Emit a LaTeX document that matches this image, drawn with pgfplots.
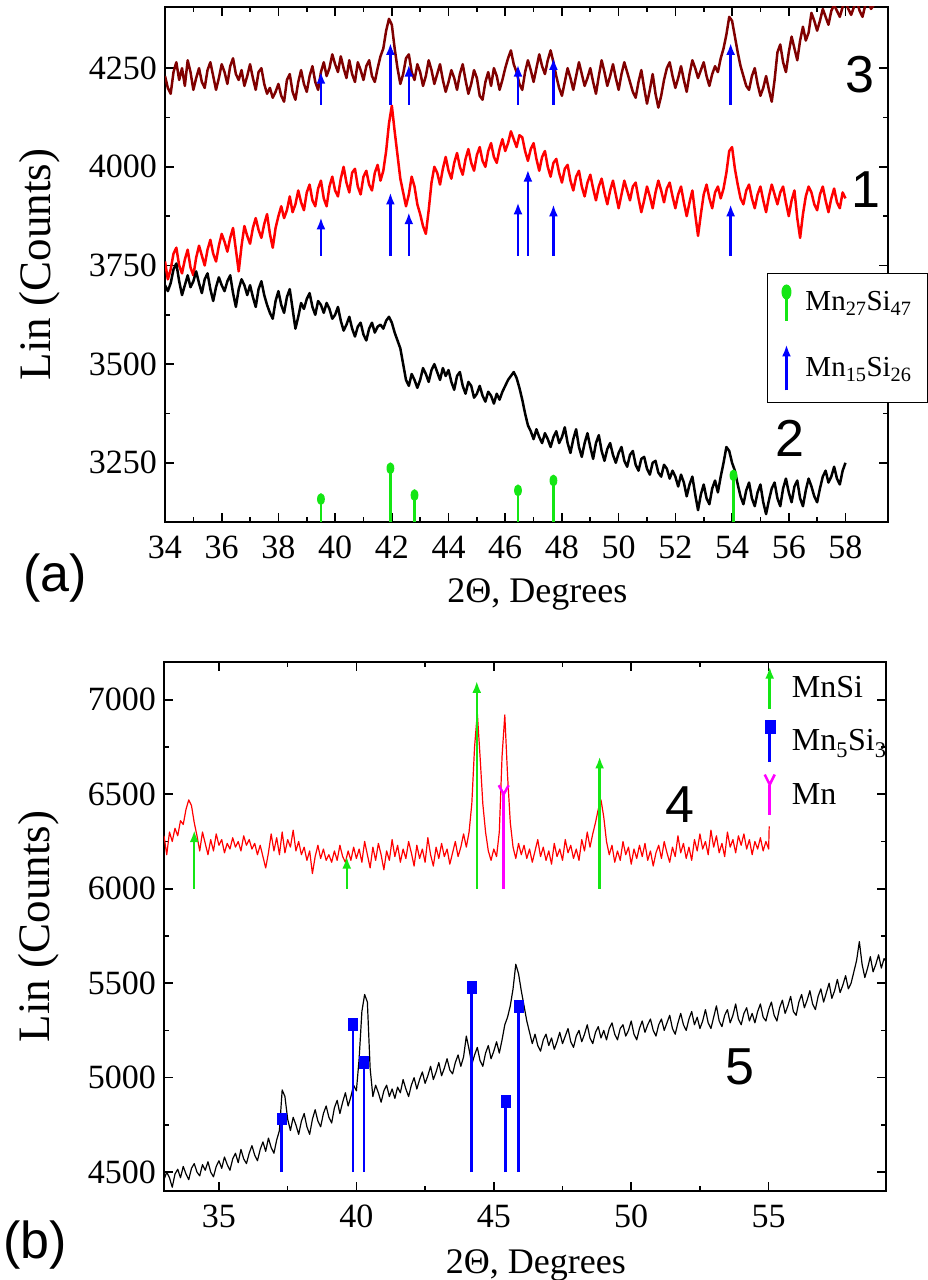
\documentclass[border=0pt]{standalone}
\usepackage{pgfplots}
\pgfplotsset{compat=1.18}
\usepackage{fontspec}
\setmainfont{Liberation Serif}
\newfontfamily\arialfont{Liberation Sans}
\usetikzlibrary{arrows.meta}

\definecolor{darkred}{RGB}{128,0,0}
\definecolor{mnred}{RGB}{255,0,0}
\definecolor{mngreen}{RGB}{20,230,20}
\definecolor{mnblue}{RGB}{0,0,255}
\definecolor{mnmag}{RGB}{255,0,255}

\pgfdeclareplotmark{vellipse}{%
  \pgfpathellipse{\pgfpointorigin}{\pgfqpoint{0.65\pgfplotmarksize}{0pt}}{\pgfqpoint{0pt}{\pgfplotmarksize}}%
  \pgfusepathqfill}
\pgfdeclareplotmark{ymark}{%
  \pgfpathmoveto{\pgfqpoint{-0.55\pgfplotmarksize}{\pgfplotmarksize}}%
  \pgfpathlineto{\pgfpointorigin}%
  \pgfpathlineto{\pgfqpoint{0.55\pgfplotmarksize}{\pgfplotmarksize}}%
  \pgfusepathqstroke}

\tikzset{numlab/.style={font=\arialfont\fontsize{52}{56}\selectfont}}
\pgfplotsset{
  myaxis/.style={
    scale only axis,
    anchor=south west,
    axis line style={line width=1.8pt},
    tick style={black, line width=1.6pt},
    major tick length=9pt, minor tick length=5pt,
    tick align=inside,
    /pgf/number format/assume math mode=true,
    /pgf/number format/1000 sep={},
    ticklabel style={font=\fontsize{34}{36}\selectfont},
    yticklabel style={inner sep=0pt, xshift=-8pt},
    xticklabel style={inner sep=0pt, yshift=-14pt},
    every axis y label/.style={at={(axis description cs:-0.173,0.5)}, rotate=90, anchor=center, font=\fontsize{45}{48}\selectfont},
    every axis x label/.style={at={(axis description cs:0.515,-0.14)}, anchor=center, font=\fontsize{36}{40}\selectfont},
    legend cell align=left,
  },
  curve/.style={line join=round, forget plot},
}

\begin{document}
\begin{tikzpicture}
% ---------------- panel (a) ----------------
\begin{axis}[myaxis, at={(165pt,758pt)}, width=723pt, height=515pt,
  xmin=34, xmax=59.5, ymin=3100, ymax=4405,
  xtick={34,36,...,58}, minor x tick num=1,
  ytick={3250,3500,3750,4000,4250}, minor y tick num=1,
  xlabel={2Θ, Degrees}, ylabel={Lin (Counts)},
  legend style={at={(0.8326,0.4835)}, anchor=north west, draw=black, line width=1pt, fill=white,
    font=\fontsize{29}{31}\selectfont, row sep=21pt, inner xsep=14pt, inner ysep=11pt,
    /tikz/every odd column/.append style={column sep=12pt}},
]
% curve 3
\addplot[curve, darkred, line width=2.5pt] coordinates {
(34.0,4230) (34.1,4200) (34.2,4185) (34.3,4240) (34.4,4265) (34.5,4220) (34.6,4250) (34.7,4205) (34.8,4270) (34.9,4240)
(35.0,4195) (35.1,4225) (35.2,4250) (35.3,4215) (35.4,4200) (35.5,4245) (35.6,4265) (35.7,4230) (35.8,4195) (35.9,4225)
(36.0,4260) (36.1,4240) (36.2,4210) (36.3,4255) (36.4,4275) (36.5,4235) (36.6,4220) (36.7,4245) (36.8,4205) (36.9,4230)
(37.0,4260) (37.1,4225) (37.2,4195) (37.3,4240) (37.4,4250) (37.5,4210) (37.6,4185) (37.7,4200) (37.8,4175) (37.9,4190)
(38.0,4210) (38.1,4180) (38.2,4165) (38.3,4220) (38.4,4235) (38.5,4190) (38.6,4170) (38.7,4215) (38.8,4245) (38.9,4210)
(39.0,4190) (39.1,4230) (39.2,4255) (39.3,4215) (39.4,4195) (39.5,4240) (39.6,4265) (39.7,4230) (39.8,4250) (39.9,4285)
(40.0,4260) (40.1,4240) (40.2,4280) (40.3,4250) (40.4,4225) (40.5,4270) (40.6,4235) (40.7,4215) (40.8,4265) (40.9,4245)
(41.0,4220) (41.1,4255) (41.2,4270) (41.3,4230) (41.4,4215) (41.5,4250) (41.6,4280) (41.7,4300) (41.8,4345) (41.9,4375)
(42.0,4360) (42.1,4300) (42.2,4250) (42.3,4210) (42.4,4235) (42.5,4275) (42.6,4285) (42.7,4240) (42.8,4220) (42.9,4260)
(43.0,4240) (43.1,4205) (43.2,4230) (43.3,4270) (43.4,4245) (43.5,4210) (43.6,4235) (43.7,4260) (43.8,4220) (43.9,4190)
(44.0,4215) (44.1,4245) (44.2,4225) (44.3,4195) (44.4,4235) (44.5,4260) (44.6,4220) (44.7,4185) (44.8,4210) (44.9,4245)
(45.0,4225) (45.1,4180) (45.2,4170) (45.3,4215) (45.4,4240) (45.5,4205) (45.6,4250) (45.7,4230) (45.8,4195) (45.9,4220)
(46.0,4250) (46.1,4275) (46.2,4295) (46.3,4260) (46.4,4240) (46.5,4210) (46.6,4195) (46.7,4240) (46.8,4270) (46.9,4245)
(47.0,4215) (47.1,4250) (47.2,4285) (47.3,4255) (47.4,4235) (47.5,4270) (47.6,4295) (47.7,4265) (47.8,4230) (47.9,4200)
(48.0,4180) (48.1,4215) (48.2,4250) (48.3,4225) (48.4,4195) (48.5,4230) (48.6,4265) (48.7,4235) (48.8,4205) (48.9,4225)
(49.0,4250) (49.1,4215) (49.2,4185) (49.3,4230) (49.4,4270) (49.5,4240) (49.6,4205) (49.7,4230) (49.8,4260) (49.9,4225)
(50.0,4195) (50.1,4235) (50.2,4265) (50.3,4240) (50.4,4215) (50.5,4190) (50.6,4175) (50.7,4215) (50.8,4245) (50.9,4200)
(51.0,4160) (51.1,4195) (51.2,4235) (51.3,4185) (51.4,4150) (51.5,4180) (51.6,4220) (51.7,4250) (51.8,4265) (51.9,4230)
(52.0,4200) (52.1,4225) (52.2,4255) (52.3,4220) (52.4,4190) (52.5,4235) (52.6,4270) (52.7,4250) (52.8,4225) (52.9,4245)
(53.0,4265) (53.1,4230) (53.2,4205) (53.3,4235) (53.4,4255) (53.5,4240) (53.6,4275) (53.7,4300) (53.8,4335) (53.9,4380)
(54.0,4370) (54.1,4330) (54.2,4290) (54.3,4255) (54.4,4230) (54.5,4205) (54.6,4195) (54.7,4230) (54.8,4250) (54.9,4210)
(55.0,4180) (55.1,4200) (55.2,4230) (55.3,4195) (55.4,4165) (55.5,4220) (55.6,4290) (55.7,4310) (55.8,4265) (55.9,4240)
(56.0,4290) (56.1,4330) (56.2,4300) (56.3,4270) (56.4,4320) (56.5,4355) (56.6,4320) (56.7,4340) (56.8,4390) (56.9,4370)
(57.0,4345) (57.1,4370) (57.2,4400) (57.3,4380) (57.4,4360) (57.5,4395) (57.6,4410) (57.7,4395) (57.8,4380) (57.9,4405)
(58.0,4420) (58.1,4400) (58.2,4385) (58.3,4405) (58.4,4420) (58.5,4395) (58.6,4380) (58.7,4410) (58.8,4425) (58.9,4400)
(59.0,4410) (59.1,4430)
};
% curve 1
\addplot[curve, mnred, line width=2.5pt] coordinates {
(34.0,3760) (34.1,3715) (34.2,3740) (34.3,3780) (34.4,3795) (34.5,3750) (34.6,3730) (34.7,3765) (34.8,3790) (34.9,3745)
(35.0,3725) (35.1,3770) (35.2,3800) (35.3,3775) (35.4,3750) (35.5,3790) (35.6,3815) (35.7,3780) (35.8,3760) (35.9,3800)
(36.0,3830) (36.1,3810) (36.2,3785) (36.3,3820) (36.4,3845) (36.5,3790) (36.6,3735) (36.7,3800) (36.8,3850) (36.9,3825)
(37.0,3805) (37.1,3845) (37.2,3870) (37.3,3840) (37.4,3820) (37.5,3855) (37.6,3880) (37.7,3830) (37.8,3795) (37.9,3845)
(38.0,3875) (38.1,3900) (38.2,3870) (38.3,3890) (38.4,3925) (38.5,3885) (38.6,3905) (38.7,3940) (38.8,3910) (38.9,3890)
(39.0,3935) (39.1,3955) (39.2,3915) (39.3,3900) (39.4,3945) (39.5,3965) (39.6,3920) (39.7,3900) (39.8,3950) (39.9,3975)
(40.0,3940) (40.1,3925) (40.2,3970) (40.3,4000) (40.4,3960) (40.5,3935) (40.6,3985) (40.7,3995) (40.8,3950) (40.9,3930)
(41.0,3975) (41.1,3990) (41.2,3955) (41.3,3940) (41.4,3985) (41.5,4005) (41.6,3965) (41.7,3990) (41.8,4040) (41.9,4110)
(42.0,4155) (42.1,4090) (42.2,4030) (42.3,3970) (42.4,3935) (42.5,3900) (42.6,3930) (42.7,3975) (42.8,3950) (42.9,3905)
(43.0,3880) (43.1,3850) (43.2,3830) (43.3,3890) (43.4,3960) (43.5,4000) (43.6,3985) (43.7,3955) (43.8,3995) (43.9,4025)
(44.0,3990) (44.1,3970) (44.2,4010) (44.3,4035) (44.4,4000) (44.5,3980) (44.6,4020) (44.7,4045) (44.8,4010) (44.9,3990)
(45.0,4030) (45.1,4050) (45.2,4015) (45.3,4000) (45.4,4040) (45.5,4060) (45.6,4025) (45.7,4010) (45.8,4045) (45.9,4070)
(46.0,4040) (46.1,4060) (46.2,4090) (46.3,4070) (46.4,4050) (46.5,4080) (46.6,4075) (46.7,4040) (46.8,4015) (46.9,4045)
(47.0,4060) (47.1,4020) (47.2,3990) (47.3,4025) (47.4,4040) (47.5,4000) (47.6,3975) (47.7,4010) (47.8,4020) (47.9,3985)
(48.0,3960) (48.1,3995) (48.2,4005) (48.3,3965) (48.4,3940) (48.5,3975) (48.6,3990) (48.7,3950) (48.8,3925) (48.9,3960)
(49.0,3980) (49.1,3945) (49.2,3915) (49.3,3950) (49.4,3970) (49.5,3935) (49.6,3905) (49.7,3940) (49.8,3965) (49.9,3930)
(50.0,3895) (50.1,3930) (50.2,3965) (50.3,3940) (50.4,3915) (50.5,3950) (50.6,3960) (50.7,3920) (50.8,3885) (50.9,3915)
(51.0,3950) (51.1,3925) (51.2,3895) (51.3,3935) (51.4,3965) (51.5,3940) (51.6,3910) (51.7,3945) (51.8,3960) (51.9,3925)
(52.0,3895) (52.1,3930) (52.2,3950) (52.3,3910) (52.4,3875) (52.5,3910) (52.6,3940) (52.7,3880) (52.8,3825) (52.9,3880)
(53.0,3930) (53.1,3955) (53.2,3920) (53.3,3895) (53.4,3935) (53.5,3950) (53.6,3920) (53.7,3945) (53.8,3985) (53.9,4040)
(54.0,4050) (54.1,3995) (54.2,3955) (54.3,3920) (54.4,3905) (54.5,3940) (54.6,3955) (54.7,3920) (54.8,3895) (54.9,3930)
(55.0,3950) (55.1,3915) (55.2,3885) (55.3,3925) (55.4,3955) (55.5,3930) (55.6,3905) (55.7,3935) (55.8,3950) (55.9,3910)
(56.0,3875) (56.1,3915) (56.2,3940) (56.3,3870) (56.4,3820) (56.5,3880) (56.6,3925) (56.7,3950) (56.8,3935) (56.9,3905)
(57.0,3890) (57.1,3930) (57.2,3950) (57.3,3915) (57.4,3885) (57.5,3920) (57.6,3945) (57.7,3910) (57.8,3895) (57.9,3935)
(58.0,3920)
};
% curve 2
\addplot[curve, black, line width=2.5pt] coordinates {
(34.0,3700) (34.1,3685) (34.2,3705) (34.3,3740) (34.4,3755) (34.5,3710) (34.6,3675) (34.7,3700) (34.8,3725) (34.9,3695)
(35.0,3710) (35.1,3735) (35.2,3705) (35.3,3680) (35.4,3715) (35.5,3730) (35.6,3690) (35.7,3660) (35.8,3695) (35.9,3720)
(36.0,3700) (36.1,3685) (36.2,3710) (36.3,3725) (36.4,3680) (36.5,3645) (36.6,3690) (36.7,3715) (36.8,3700) (36.9,3675)
(37.0,3700) (37.1,3670) (37.2,3645) (37.3,3690) (37.4,3710) (37.5,3675) (37.6,3650) (37.7,3630) (37.8,3615) (37.9,3660)
(38.0,3685) (38.1,3650) (38.2,3630) (38.3,3670) (38.4,3690) (38.5,3640) (38.6,3590) (38.7,3620) (38.8,3655) (38.9,3640)
(39.0,3665) (39.1,3680) (39.2,3645) (39.3,3625) (39.4,3660) (39.5,3650) (39.6,3630) (39.7,3655) (39.8,3640) (39.9,3615)
(40.0,3625) (40.1,3645) (40.2,3610) (40.3,3585) (40.4,3600) (40.5,3620) (40.6,3590) (40.7,3570) (40.8,3595) (40.9,3605)
(41.0,3575) (41.1,3560) (41.2,3590) (41.3,3605) (41.4,3580) (41.5,3595) (41.6,3600) (41.7,3590) (41.8,3610) (41.9,3620)
(42.0,3605) (42.1,3580) (42.2,3560) (42.3,3540) (42.4,3500) (42.5,3460) (42.6,3445) (42.7,3475) (42.8,3460) (42.9,3440)
(43.0,3460) (43.1,3490) (43.2,3475) (43.3,3455) (43.4,3485) (43.5,3500) (43.6,3480) (43.7,3460) (43.8,3490) (43.9,3470)
(44.0,3485) (44.1,3455) (44.2,3435) (44.3,3470) (44.4,3480) (44.5,3445) (44.6,3425) (44.7,3455) (44.8,3445) (44.9,3415)
(45.0,3425) (45.1,3445) (45.2,3420) (45.3,3405) (45.4,3430) (45.5,3420) (45.6,3400) (45.7,3425) (45.8,3410) (45.9,3430)
(46.0,3445) (46.1,3460) (46.2,3470) (46.3,3480) (46.4,3465) (46.5,3440) (46.6,3410) (46.7,3375) (46.8,3345) (46.9,3330)
(47.0,3310) (47.1,3335) (47.2,3315) (47.3,3300) (47.4,3325) (47.5,3310) (47.6,3290) (47.7,3315) (47.8,3330) (47.9,3300)
(48.0,3315) (48.1,3340) (48.2,3300) (48.3,3275) (48.4,3310) (48.5,3335) (48.6,3290) (48.7,3265) (48.8,3300) (48.9,3325)
(49.0,3290) (49.1,3260) (49.2,3300) (49.3,3320) (49.4,3280) (49.5,3255) (49.6,3285) (49.7,3300) (49.8,3270) (49.9,3250)
(50.0,3275) (50.1,3290) (50.2,3255) (50.3,3240) (50.4,3270) (50.5,3280) (50.6,3245) (50.7,3230) (50.8,3260) (50.9,3265)
(51.0,3235) (51.1,3220) (51.2,3250) (51.3,3255) (51.4,3225) (51.5,3215) (51.6,3245) (51.7,3235) (51.8,3210) (51.9,3230)
(52.0,3215) (52.1,3190) (52.2,3220) (52.3,3200) (52.4,3165) (52.5,3195) (52.6,3215) (52.7,3170) (52.8,3130) (52.9,3170)
(53.0,3195) (53.1,3160) (53.2,3145) (53.3,3185) (53.4,3205) (53.5,3175) (53.6,3215) (53.7,3250) (53.8,3290) (53.9,3280)
(54.0,3250) (54.1,3230) (54.2,3195) (54.3,3165) (54.4,3145) (54.5,3180) (54.6,3200) (54.7,3160) (54.8,3140) (54.9,3175)
(55.0,3195) (55.1,3150) (55.2,3120) (55.3,3155) (55.4,3185) (55.5,3200) (55.6,3160) (55.7,3140) (55.8,3185) (55.9,3210)
(56.0,3175) (56.1,3150) (56.2,3190) (56.3,3205) (56.4,3160) (56.5,3140) (56.6,3180) (56.7,3210) (56.8,3190) (56.9,3165)
(57.0,3150) (57.1,3185) (57.2,3215) (57.3,3230) (57.4,3200) (57.5,3215) (57.6,3240) (57.7,3210) (57.8,3195) (57.9,3230)
(58.0,3250)
};
% Mn15Si26 arrows on curve 1
\addplot[forget plot, mnblue, line width=2.5pt, -{Latex[length=12pt,width=9pt]}, quiver={u=0, v=\thisrow{v}}] table {
x y v
39.5 3775 97
41.95 3775 160
42.6 3775 110
46.45 3775 135
46.8 3775 218
47.7 3775 130
53.95 3775 130
};
% Mn15Si26 arrows on curve 3
\addplot[forget plot, mnblue, line width=2.5pt, -{Latex[length=12pt,width=9pt]}, quiver={u=0, v=\thisrow{v}}] table {
x y v
39.5 4157 84
41.95 4157 157
42.6 4157 102
46.45 4157 102
47.7 4157 119
53.95 4157 157
};
% Mn27Si47 stems
\addplot[forget plot, mngreen, line width=2.5pt, quiver={u=0, v=\thisrow{v}}] table {
x y v
39.5 3100 58
41.95 3100 136
42.8 3100 68
46.45 3100 80
47.7 3100 105
54.05 3100 118
};
\addplot[forget plot, only marks, mark=vellipse, mark size=6pt, mngreen] table {
39.5 3158
41.95 3236
42.8 3168
46.45 3180
47.7 3205
54.05 3218
};
\addlegendimage{legend image code/.code={
  \draw[mngreen, line width=2.5pt] (0pt,-19pt) -- (0pt,6pt);
  \fill[mngreen] (0pt,10pt) ellipse (4.5pt and 7pt);}}
\addlegendentry{Mn\textsubscript{27}Si\textsubscript{47}}
\addlegendimage{legend image code/.code={
  \draw[mnblue, line width=2.5pt, -{Latex[length=12pt,width=9pt]}] (0pt,-23pt) -- (0pt,23pt);}}
\addlegendentry{Mn\textsubscript{15}Si\textsubscript{26}}
\node[numlab] at (axis cs:58.52,4233) {3};
\node[numlab] at (axis cs:58.73,3943) {1};
\node[numlab] at (axis cs:56.05,3312) {2};
\end{axis}

% ---------------- panel (b) ----------------
\begin{axis}[myaxis, at={(164pt,89pt)}, width=722pt, height=529pt,
  xmin=33, xmax=59.27, ymin=4400, ymax=7200,
  xtick={35,40,45,50,55}, minor x tick num=1,
  ytick={4500,5000,5500,6000,6500,7000}, minor y tick num=1,
  xlabel={2Θ, Degrees}, ylabel={Lin (Counts)},
  legend style={at={(0.830,0.994)}, anchor=north west, draw=none, fill=none,
    font=\fontsize{32}{34}\selectfont, row sep=10pt, inner sep=0pt,
    /tikz/every odd column/.append style={column sep=14pt}},
]
% curve 4
\addplot[curve, mnred, line width=1.2pt] table {
33.0 6280
33.1 6180
33.2 6300
33.3 6250
33.4 6320
33.5 6280
33.6 6360
33.7 6340
33.8 6420
33.9 6470
34.0 6440
34.1 6350
34.2 6280
34.3 6200
34.4 6300
34.5 6240
34.6 6180
34.7 6260
34.8 6200
34.9 6290
35.0 6230
35.1 6260
35.2 6190
35.3 6240
35.4 6210
35.5 6270
35.6 6220
35.7 6250
35.8 6200
35.9 6280
36.0 6230
36.1 6260
36.2 6210
36.3 6240
36.4 6180
36.5 6230
36.6 6170
36.7 6110
36.8 6190
36.9 6290
37.0 6200
37.1 6270
37.2 6180
37.3 6300
37.4 6190
37.5 6260
37.6 6220
37.7 6310
37.8 6200
37.9 6250
38.0 6180
38.1 6220
38.2 6150
38.3 6200
38.4 6080
38.5 6170
38.6 6230
38.7 6160
38.8 6210
38.9 6150
39.0 6180
39.1 6140
39.2 6200
39.3 6150
39.4 6230
39.5 6170
39.6 6140
39.7 6200
39.8 6150
39.9 6220
40.0 6160
40.1 6210
40.2 6140
40.3 6250
40.4 6180
40.5 6110
40.6 6220
40.7 6150
40.8 6240
40.9 6180
41.0 6100
41.1 6200
41.2 6150
41.3 6260
41.4 6170
41.5 6230
41.6 6140
41.7 6210
41.8 6160
41.9 6250
42.0 6190
42.1 6120
42.2 6230
42.3 6160
42.4 6210
42.5 6140
42.6 6270
42.7 6180
42.8 6120
42.9 6220
43.0 6160
43.1 6240
43.2 6170
43.3 6210
43.4 6130
43.5 6190
43.6 6250
43.7 6170
43.8 6220
43.9 6290
44.0 6220
44.1 6300
44.2 6450
44.3 6750
44.4 6930
44.5 6700
44.6 6450
44.7 6300
44.8 6200
44.9 6150
45.0 6210
45.1 6170
45.2 6300
45.3 6700
45.4 6920
45.5 6600
45.6 6350
45.7 6220
45.8 6160
45.9 6240
46.0 6180
46.1 6230
46.2 6160
46.3 6210
46.4 6140
46.5 6200
46.6 6260
46.7 6170
46.8 6220
46.9 6150
47.0 6200
47.1 6130
47.2 6240
47.3 6170
47.4 6210
47.5 6150
47.6 6260
47.7 6190
47.8 6230
47.9 6160
48.0 6210
48.1 6150
48.2 6260
48.3 6200
48.4 6300
48.5 6220
48.6 6290
48.7 6350
48.8 6420
48.9 6470
49.0 6380
49.1 6250
49.2 6180
49.3 6230
49.4 6140
49.5 6200
49.6 6150
49.7 6250
49.8 6180
49.9 6220
50.0 6130
50.1 6210
50.2 6160
50.3 6230
50.4 6170
50.5 6240
50.6 6150
50.7 6200
50.8 6120
50.9 6190
51.0 6230
51.1 6160
51.2 6250
51.3 6190
51.4 6140
51.5 6220
51.6 6170
51.7 6280
51.8 6190
51.9 6240
52.0 6160
52.1 6220
52.2 6150
52.3 6260
52.4 6200
52.5 6290
52.6 6210
52.7 6250
52.8 6180
52.9 6310
53.0 6220
53.1 6280
53.2 6190
53.3 6240
53.4 6170
53.5 6300
53.6 6220
53.7 6260
53.8 6190
53.9 6280
54.0 6230
54.1 6290
54.2 6210
54.3 6260
54.4 6180
54.5 6250
54.6 6210
54.7 6270
54.8 6200
54.9 6250
55.0 6210
55.02 6330
};
% curve 5
\addplot[curve, black, line width=1.2pt] coordinates {
(33.0,4460) (33.1,4500) (33.2,4470) (33.3,4420) (33.4,4490) (33.5,4515) (33.6,4470) (33.7,4530) (33.8,4490) (33.9,4460)
(34.0,4520) (34.1,4545) (34.2,4500) (34.3,4480) (34.4,4540) (34.5,4510) (34.6,4555) (34.7,4500) (34.8,4475) (34.9,4530)
(35.0,4560) (35.1,4520) (35.2,4580) (35.3,4540) (35.4,4510) (35.5,4570) (35.6,4600) (35.7,4550) (35.8,4620) (35.9,4570)
(36.0,4545) (36.1,4600) (36.2,4640) (36.3,4590) (36.4,4560) (36.5,4620) (36.6,4660) (36.7,4610) (36.8,4680) (36.9,4630)
(37.0,4600) (37.1,4670) (37.2,4720) (37.3,4935) (37.4,4900) (37.5,4780) (37.6,4720) (37.7,4790) (37.8,4750) (37.9,4700)
(38.0,4770) (38.1,4810) (38.2,4740) (38.3,4700) (38.4,4780) (38.5,4830) (38.6,4770) (38.7,4740) (38.8,4810) (38.9,4850)
(39.0,4790) (39.1,4760) (39.2,4840) (39.3,4880) (39.4,4810) (39.5,4870) (39.6,4920) (39.7,4850) (39.8,4900) (39.9,4960)
(40.0,4930) (40.1,5100) (40.2,5350) (40.3,5440) (40.4,5400) (40.5,5050) (40.6,4900) (40.7,4960) (40.8,4920) (40.9,4870)
(41.0,4930) (41.1,4960) (41.2,4900) (41.3,4940) (41.4,4890) (41.5,4950) (41.6,4920) (41.7,4990) (41.8,4940) (41.9,4900)
(42.0,4960) (42.1,5000) (42.2,4940) (42.3,4990) (42.4,5030) (42.5,4970) (42.6,5010) (42.7,5060) (42.8,4990) (42.9,5030)
(43.0,5080) (43.1,5010) (43.2,5050) (43.3,5100) (43.4,5040) (43.5,5020) (43.6,5080) (43.7,5120) (43.8,5060) (43.9,5110)
(44.0,5220) (44.1,5150) (44.2,5070) (44.3,5120) (44.4,5160) (44.5,5090) (44.6,5060) (44.7,5130) (44.8,5170) (44.9,5100)
(45.0,5140) (45.1,5190) (45.2,5130) (45.3,5200) (45.4,5280) (45.5,5320) (45.6,5380) (45.7,5470) (45.8,5600) (45.9,5550)
(46.0,5460) (46.1,5380) (46.2,5300) (46.3,5240) (46.4,5180) (46.5,5230) (46.6,5170) (46.7,5140) (46.8,5200) (46.9,5230)
(47.0,5170) (47.1,5210) (47.2,5150) (47.3,5190) (47.4,5240) (47.5,5180) (47.6,5220) (47.7,5260) (47.8,5190) (47.9,5160)
(48.0,5220) (48.1,5250) (48.2,5190) (48.3,5230) (48.4,5280) (48.5,5210) (48.6,5180) (48.7,5240) (48.8,5270) (48.9,5210)
(49.0,5250) (49.1,5200) (49.2,5260) (49.3,5290) (49.4,5230) (49.5,5200) (49.6,5260) (49.7,5280) (49.8,5220) (49.9,5250)
(50.0,5300) (50.1,5230) (50.2,5200) (50.3,5260) (50.4,5300) (50.5,5240) (50.6,5280) (50.7,5310) (50.8,5250) (50.9,5220)
(51.0,5280) (51.1,5310) (51.2,5250) (51.3,5290) (51.4,5330) (51.5,5260) (51.6,5230) (51.7,5290) (51.8,5340) (51.9,5280)
(52.0,5250) (52.1,5310) (52.2,5350) (52.3,5280) (52.4,5320) (52.5,5260) (52.6,5300) (52.7,5360) (52.8,5290) (52.9,5260)
(53.0,5320) (53.1,5380) (53.2,5300) (53.3,5270) (53.4,5330) (53.5,5360) (53.6,5290) (53.7,5330) (53.8,5390) (53.9,5310)
(54.0,5280) (54.1,5340) (54.2,5370) (54.3,5300) (54.4,5340) (54.5,5290) (54.6,5350) (54.7,5390) (54.8,5320) (54.9,5300)
(55.0,5360) (55.1,5400) (55.2,5330) (55.3,5300) (55.4,5370) (55.5,5410) (55.6,5340) (55.7,5380) (55.8,5430) (55.9,5350)
(56.0,5330) (56.1,5400) (56.2,5440) (56.3,5370) (56.4,5410) (56.5,5460) (56.6,5390) (56.7,5360) (56.8,5430) (56.9,5470)
(57.0,5400) (57.1,5450) (57.2,5500) (57.3,5420) (57.4,5460) (57.5,5520) (57.6,5450) (57.7,5490) (57.8,5540) (57.9,5470)
(58.0,5500) (58.1,5560) (58.2,5620) (58.3,5720) (58.4,5600) (58.5,5530) (58.6,5580) (58.7,5640) (58.8,5560) (58.9,5600)
(59.0,5650) (59.1,5580) (59.2,5630) (59.3,5610)
};
% MnSi arrows
\addplot[forget plot, mngreen, line width=2.5pt, -{Latex[length=12pt,width=9pt]}, quiver={u=0, v=\thisrow{v}}] table {
x y v
34.1 6000 310
39.65 6000 170
44.38 6000 1100
48.85 6000 700
};
% Mn5Si3 stems
\addplot[forget plot, mnblue, line width=2.5pt, quiver={u=0, v=\thisrow{v}}] table {
x y v
37.27 4500 282
39.87 4500 783
40.27 4500 583
44.18 4500 979
45.42 4500 377
45.89 4500 878
};
\addplot[forget plot, only marks, mark=square*, mark size=4.5pt, mark options={yscale=1.3}, mnblue] table {
37.27 4782
39.87 5283
40.27 5083
44.18 5479
45.42 4877
45.89 5378
};
% Mn stem
\addplot[forget plot, mnmag, line width=2.5pt, quiver={u=0, v=\thisrow{v}}] table {
x y v
45.36 6000 500
};
\addplot[forget plot, only marks, mark=ymark, mark size=9pt, mark options={line width=2.5pt}, mnmag] table {
45.36 6500
};
\addlegendimage{legend image code/.code={
  \draw[mngreen, line width=2.5pt, -{Latex[length=12pt,width=9pt]}] (0pt,-21pt) -- (0pt,21pt);}}
\addlegendentry{MnSi}
\addlegendimage{legend image code/.code={
  \draw[mnblue, line width=2.5pt] (0pt,-21pt) -- (0pt,8pt);
  \fill[mnblue] (-5pt,8pt) rectangle (5pt,21pt);}}
\addlegendentry{Mn\textsubscript{5}Si\textsubscript{3}}
\addlegendimage{legend image code/.code={
  \draw[mnmag, line width=2.5pt] (0pt,-20pt) -- (0pt,10pt);
  \draw[mnmag, line width=2.5pt] (-5pt,20pt) -- (0pt,10pt) -- (5pt,20pt);}}
\addlegendentry{Mn}
\node[numlab] at (axis cs:51.76,6445) {4};
\node[numlab] at (axis cs:53.95,5056) {5};
\end{axis}

\node[numlab] at (55pt,702pt) {(a)};
\node[numlab] at (35pt,35pt) {(b)};
\pgfresetboundingbox
\path (0pt,0pt) rectangle (928pt,1280pt);
\end{tikzpicture}
\end{document}
